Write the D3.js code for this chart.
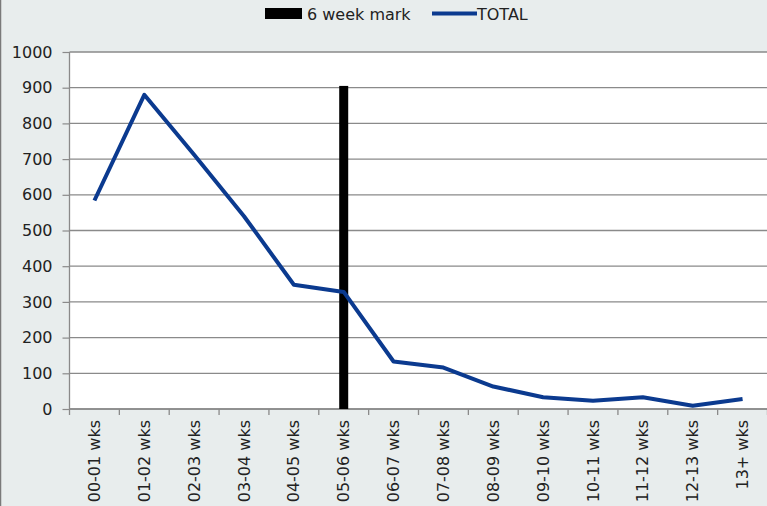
<!DOCTYPE html>
<html>
<head>
<meta charset="utf-8">
<script src="https://cdn.jsdelivr.net/npm/d3@7"></script>
<style>
  body { margin: 0; background: #e8eded; }
  svg { display: block; font-family: "DejaVu Sans", sans-serif; }
</style>
</head>
<body>
<div id="graph"></div>
<script>
// weeks categories
const categories = ['00-01 wks', '01-02 wks', '02-03 wks', '03-04 wks', '04-05 wks', '05-06 wks',
  '06-07 wks', '07-08 wks', '08-09 wks', '09-10 wks', '10-11 wks', '11-12 wks', '12-13 wks', '13+ wks'];
// TOTAL line
const totalValues = [584, 880, 712, 540, 348, 328, 133, 116, 63, 33, 23, 33, 9, 28];
// 6 week mark bar (only at 05-06 wks)
const markCategory = '05-06 wks';
const markValue = 905;
const yTicks = [0, 100, 200, 300, 400, 500, 600, 700, 800, 900, 1000];

drawChart();

function drawChart() {
  const width = 767;
  const height = 506;
  const left = 69.5, right = 767.5, top = 52, bottom = 409;

  const svg = d3.select('#graph')
      .append('svg')
      .attr('width', width)
      .attr('height', height);

  // chart border on the left side
  svg.append('line')
      .attr('x1', 0.5).attr('x2', 0.5).attr('y1', 0).attr('y2', height)
      .attr('stroke', '#7a7a7a').attr('stroke-width', 1.5);

  // plot area
  svg.append('rect')
      .attr('x', left).attr('y', top)
      .attr('width', right - left).attr('height', bottom - top)
      .attr('fill', '#fff');

  const x = d3.scaleBand().domain(categories).range([left, right]);
  const y = d3.scaleLinear().domain([0, 1000]).range([bottom, top]);

  // y axis + gridlines
  const yAxis = svg.append('g')
      .attr('transform', `translate(${left},0)`)
      .call(d3.axisLeft(y).tickValues(yTicks).tickFormat(d3.format('d')).tickSize(7).tickPadding(10));
  yAxis.select('.domain').remove();
  yAxis.selectAll('.tick line').attr('stroke', '#8a8a8a').attr('stroke-width', 1.2);
  yAxis.selectAll('.tick text')
      .attr('font-size', '16px').attr('fill', '#222')
      .attr('font-family', '"DejaVu Sans", sans-serif');

  svg.append('g').selectAll('line')
      .data(yTicks)
      .join('line')
      .attr('x1', left).attr('x2', right)
      .attr('y1', d => y(d)).attr('y2', d => y(d))
      .attr('stroke', '#8a8a8a').attr('stroke-width', 1.3);

  // y axis line
  svg.append('line')
      .attr('x1', left).attr('x2', left).attr('y1', top).attr('y2', bottom)
      .attr('stroke', '#8a8a8a').attr('stroke-width', 1.3);

  // x axis: ticks on band boundaries
  const bounds = categories.map(c => x(c)).concat([x.range()[1]]);
  svg.append('g').selectAll('line')
      .data(bounds)
      .join('line')
      .attr('x1', d => d).attr('x2', d => d)
      .attr('y1', bottom).attr('y2', bottom + 6)
      .attr('stroke', '#8a8a8a').attr('stroke-width', 1.3);
  svg.append('line')
      .attr('x1', left).attr('x2', right).attr('y1', y(0)).attr('y2', y(0))
      .attr('stroke', '#8a8a8a').attr('stroke-width', 1.3);

  svg.append('g').selectAll('text')
      .data(categories)
      .join('text')
      .attr('transform', d => `translate(${x(d) + x.bandwidth() / 2},${bottom + 11}) rotate(-90)`)
      .attr('text-anchor', 'end')
      .attr('dy', '0.35em')
      .attr('font-size', '16px')
      .attr('fill', '#222')
      .text(d => d);

  // 6 week mark bar
  svg.append('rect')
      .attr('x', x(markCategory) + x.bandwidth() / 2 - 4.5)
      .attr('y', y(markValue))
      .attr('width', 9)
      .attr('height', y(0) - y(markValue))
      .attr('fill', '#000');

  // TOTAL line
  const line = d3.line()
      .x((d, i) => x(categories[i]) + x.bandwidth() / 2)
      .y(d => y(d));
  svg.append('path')
      .datum(totalValues)
      .attr('d', line)
      .attr('fill', 'none')
      .attr('stroke', '#0b3a8f')
      .attr('stroke-width', 4)
      .attr('stroke-linejoin', 'round');

  // legend
  const legend = svg.append('g');
  legend.append('rect')
      .attr('x', 265).attr('y', 8).attr('width', 37).attr('height', 11)
      .attr('fill', '#000');
  legend.append('text')
      .attr('x', 307).attr('y', 19.5)
      .attr('font-size', '16px').attr('fill', '#222')
      .text('6 week mark');
  legend.append('line')
      .attr('x1', 432).attr('x2', 477).attr('y1', 13.5).attr('y2', 13.5)
      .attr('stroke', '#0b3a8f').attr('stroke-width', 4);
  legend.append('text')
      .attr('x', 477).attr('y', 19.5)
      .attr('font-size', '16px').attr('fill', '#222')
      .text('TOTAL');
}
</script>
</body>
</html>
